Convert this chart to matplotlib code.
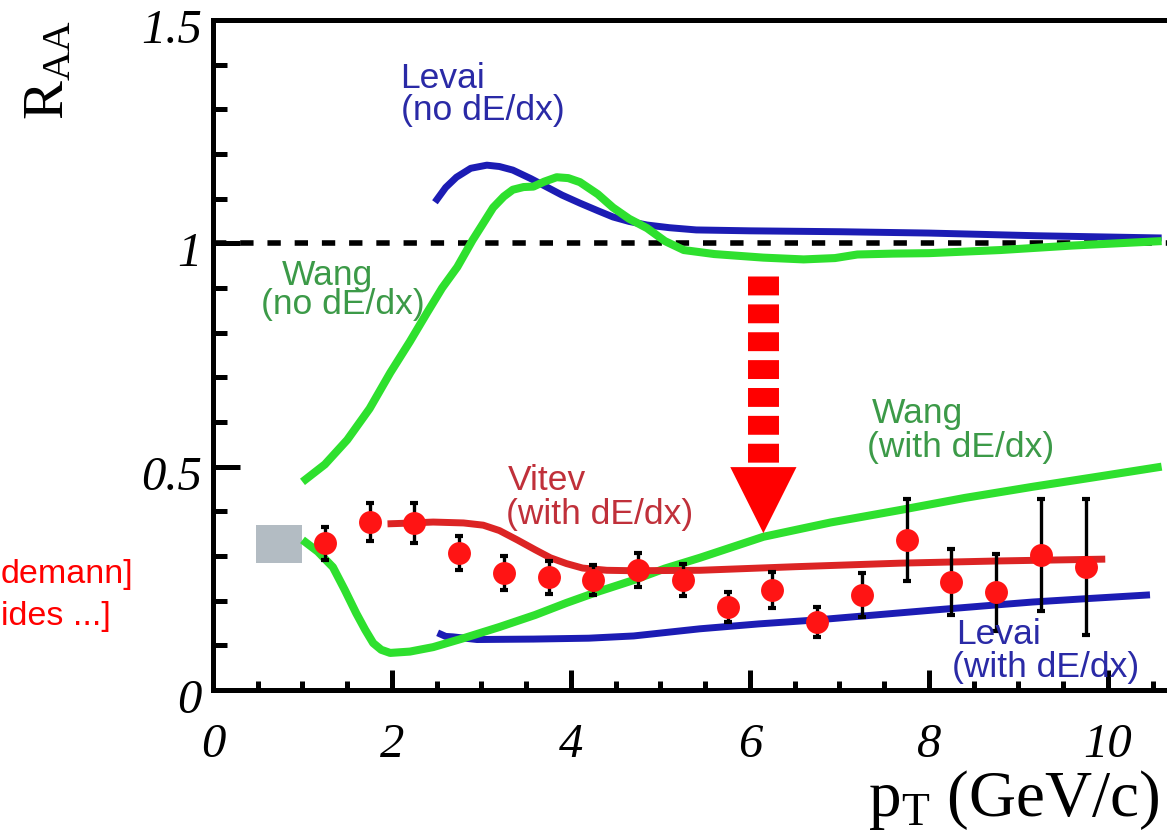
import matplotlib
matplotlib.use("Agg")
import matplotlib.pyplot as plt
from matplotlib.ticker import MultipleLocator
from matplotlib.transforms import ScaledTranslation

plt.rcParams["mathtext.fontset"] = "custom"
plt.rcParams["mathtext.rm"] = "Liberation Serif"
plt.rcParams["mathtext.it"] = "Liberation Serif:italic"

# ---- measured R_AA of pi0 (central Au+Au) ----
pt = [1.25, 1.75, 2.25, 2.75, 3.25, 3.75, 4.25, 4.75, 5.25,
      5.75, 6.25, 6.75, 7.25, 7.75, 8.25, 8.75, 9.25, 9.75]
raa = [0.329, 0.376, 0.374, 0.306, 0.262, 0.252, 0.246, 0.269, 0.246,
       0.186, 0.224, 0.152, 0.213, 0.336, 0.242, 0.219, 0.302, 0.275]
raa_err = [0.037, 0.042, 0.044, 0.038, 0.037, 0.037, 0.033, 0.038, 0.036,
           0.033, 0.041, 0.034, 0.050, 0.091, 0.074, 0.086, 0.125, 0.152]

# ---- model curves ----
levai_no_x = [2.48, 2.6, 2.72, 2.88, 3.06, 3.2, 3.35, 3.55, 3.73, 3.9, 4.1,
              4.3, 4.47, 4.65, 4.85, 5.1, 5.4, 6.0, 7.0, 8.0, 9.2, 10.6]
levai_no_y = [1.092, 1.125, 1.148, 1.168, 1.175, 1.172, 1.164, 1.145, 1.126,
              1.108, 1.09, 1.073, 1.059, 1.049, 1.041, 1.035, 1.03, 1.028,
              1.026, 1.023, 1.017, 1.012]

wang_no_x = [1.0, 1.25, 1.5, 1.75, 1.98, 2.2, 2.39, 2.56, 2.73, 2.9, 3.02,
             3.13, 3.25, 3.35, 3.47, 3.58, 3.7, 3.84, 3.97, 4.1, 4.3, 4.47,
             4.65, 4.85, 5.05, 5.26, 5.6, 6.15, 6.6, 6.95, 7.2, 7.6, 8.0,
             8.8, 9.6, 10.6]
wang_no_y = [0.466, 0.505, 0.56, 0.63, 0.71, 0.78, 0.844, 0.9, 0.947, 1.007,
             1.045, 1.08, 1.105, 1.12, 1.126, 1.127, 1.138, 1.148, 1.146,
             1.137, 1.11, 1.08, 1.055, 1.034, 1.005, 0.985, 0.976, 0.968,
             0.964, 0.967, 0.975, 0.977, 0.978, 0.985, 0.995, 1.005]

wang_de_x = [1.0, 1.17, 1.34, 1.47, 1.6, 1.7, 1.79, 1.88, 1.98, 2.2, 2.46,
             2.8, 3.2, 3.6, 3.95, 4.3, 4.7, 5.05, 5.44, 6.15, 6.9, 7.68,
             8.4, 9.16, 9.9, 10.6]
wang_de_y = [0.336, 0.31, 0.275, 0.225, 0.172, 0.135, 0.105, 0.09, 0.083,
             0.086, 0.096, 0.116, 0.141, 0.168, 0.195, 0.22, 0.246, 0.272,
             0.296, 0.343, 0.375, 0.403, 0.43, 0.455, 0.478, 0.5]

levai_de_x = [2.51, 2.6, 2.68, 2.95, 3.58, 4.2, 4.7, 5.44, 6.1, 6.75, 7.4,
              8.05, 8.6, 9.16, 9.8, 10.47]
levai_de_y = [0.128, 0.12, 0.119, 0.113, 0.114, 0.116, 0.121, 0.137, 0.148,
              0.157, 0.168, 0.179, 0.188, 0.197, 0.205, 0.213]

vitev_x = [1.95, 2.1, 2.46, 2.8, 3.02, 3.2, 3.4, 3.6, 3.77, 3.95, 4.13, 4.4,
           4.7, 5.44, 6.5, 7.68, 8.8, 9.97]
vitev_y = [0.372, 0.373, 0.376, 0.374, 0.369, 0.357, 0.336, 0.314, 0.296,
           0.283, 0.273, 0.268, 0.267, 0.268, 0.276, 0.284, 0.289, 0.293]

# normalisation uncertainty box
norm_box_x = [0.48, 0.99]
norm_box_y = [0.284, 0.369]

xticks = [0, 2, 4, 6, 8, 10]
xtick_labels = ["0", "2", "4", "6", "8", "10"]
yticks = [0, 0.5, 1, 1.5]
ytick_labels = ["0", "0.5", "1", "1.5"]

BLUE = "#1c1cb4"
GREEN = "#2ee02e"
RED = "#dc2424"
BLUE_TXT = "#2a2aa6"
GREEN_TXT = "#3c9a48"
RED_TXT = "#c0303a"

W, H = 1167, 834
fig = plt.figure(figsize=(W / 100, H / 100), dpi=100)
ax = fig.add_axes([213 / W, 144 / H, (W - 213) / W, 670 / H])
ax.set_xlim(0, 10.66)
ax.set_ylim(0, 1.5)

# axes frame
for side in ("left", "bottom", "top"):
    ax.spines[side].set_linewidth(3.6)
ax.spines["right"].set_visible(False)

ax.set_xticks(xticks, labels=xtick_labels, fontsize=35,
              fontfamily="Liberation Serif", fontstyle="italic")
ax.set_yticks(yticks, labels=ytick_labels, fontsize=35,
              fontfamily="Liberation Serif", fontstyle="italic")
ax.xaxis.set_minor_locator(MultipleLocator(0.5))
ax.yaxis.set_minor_locator(MultipleLocator(0.1))
ax.tick_params(axis="x", which="major", direction="in", length=14.5,
               width=3.6, pad=24)
ax.tick_params(axis="x", which="minor", direction="in", length=6.5, width=3.6)
ax.tick_params(axis="y", which="major", direction="in", length=19.5,
               width=3.6, pad=8)
ax.tick_params(axis="y", which="minor", direction="in", length=10, width=3.6)
shift_down = ScaledTranslation(0, -6 / 100, fig.dpi_scale_trans)
for lbl in ax.get_yticklabels():
    lbl.set_transform(lbl.get_transform() + shift_down)

# unity reference
ax.axhline(1.0, color="black", lw=4, linestyle=(0, (2.4, 2.5)),
           dash_capstyle="butt", zorder=2)

# normalisation box
ax.fill_between(norm_box_x, norm_box_y[0], norm_box_y[1],
                color="#b3bcc3", lw=0, zorder=1)

# theory curves
ax.plot(levai_no_x, levai_no_y, color=BLUE, lw=5, zorder=3,
        solid_capstyle="butt")
ax.plot(levai_de_x, levai_de_y, color=BLUE, lw=5, zorder=3,
        solid_capstyle="butt")
ax.plot(wang_no_x, wang_no_y, color=GREEN, lw=5.8, zorder=4,
        solid_capstyle="butt")
ax.plot(wang_de_x, wang_de_y, color=GREEN, lw=5.8, zorder=4,
        solid_capstyle="butt")
ax.plot(vitev_x, vitev_y, color=RED, lw=5, zorder=5, solid_capstyle="butt")

# data
ax.errorbar(pt, raa, yerr=raa_err, fmt="none", ecolor="black", elinewidth=2.4,
            capsize=3, capthick=3, zorder=6)
ax.plot(pt, raa, "o", color="#ff1414", markersize=16.5, markeredgewidth=0,
        zorder=7)

# suppression arrow
arrow_x = 6.15
ax.plot([arrow_x, arrow_x], [0.927, 0.499], color="#ff0000", lw=22.3,
        linestyle=(0, (0.61, 0.29)), dash_capstyle="butt", zorder=8)
ax.fill([arrow_x - 0.37, arrow_x + 0.37, arrow_x], [0.499, 0.499, 0.351],
        color="#ff0000", lw=0, zorder=8)

# curve labels
labels = [
    ("Levai", 2.57, 1.368, BLUE_TXT),
    ("(no dE/dx)", 3.02, 1.298, BLUE_TXT),
    ("Wang", 1.28, 0.929, GREEN_TXT),
    ("(no dE/dx)", 1.45, 0.862, GREEN_TXT),
    ("Vitev", 3.73, 0.470, RED_TXT),
    ("(with dE/dx)", 4.32, 0.394, RED_TXT),
    ("Wang", 7.87, 0.618, GREEN_TXT),
    ("(with dE/dx)", 8.35, 0.542, GREEN_TXT),
    ("Levai", 8.78, 0.125, BLUE_TXT),
    ("(with dE/dx)", 9.30, 0.051, BLUE_TXT),
]
for txt, x, y, c in labels:
    ax.text(x, y, txt, color=c, fontsize=25.5, fontfamily="Liberation Sans",
            ha="center", va="center", zorder=9)

# reference notes at the left margin
fig.text(1 / W, 1 - 575 / H, "demann]", color="#ff0000",
         fontsize=24.5, fontfamily="Liberation Sans", ha="left", va="center")
fig.text(1 / W, 1 - 616 / H, "ides ...]", color="#ff0000",
         fontsize=24.5, fontfamily="Liberation Sans", ha="left", va="center")

# axis titles
fig.text(47 / W, 1 - 70 / H, r"$\mathrm{R}_{\mathrm{AA}}$", rotation=90,
         fontsize=42, ha="center", va="center")
fig.text(1160 / W, 1 - 816 / H, r"$\mathrm{p}_{\mathrm{T}}$ (GeV/c)",
         fontsize=47, fontfamily="Liberation Serif", ha="right",
         va="baseline")

fig.savefig("out.png", dpi=100)
